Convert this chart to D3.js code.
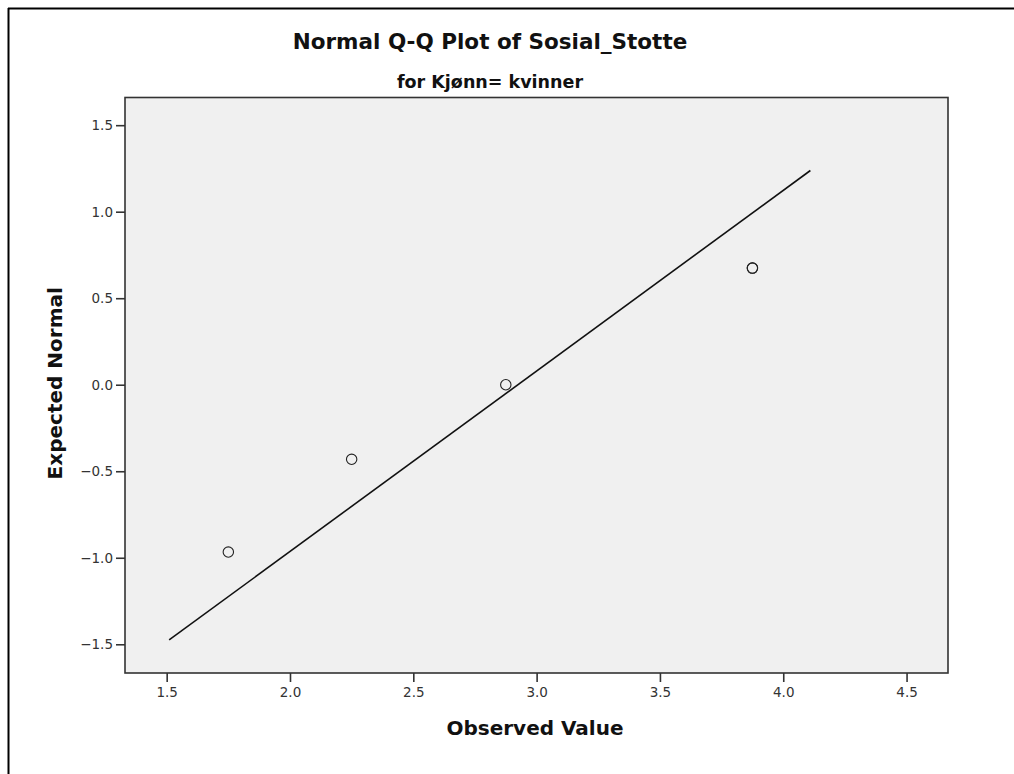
<!DOCTYPE html>
<html>
<head>
<meta charset="utf-8">
<script src="https://cdn.jsdelivr.net/npm/d3@7"></script>
<style>
  html, body { margin: 0; padding: 0; background: #fff; }
  svg { display: block; }
  text { font-family: "DejaVu Sans", sans-serif; fill: #111; }
</style>
</head>
<body>
<svg id="chart" width="1014" height="774"></svg>
<script>
// Observed values and their expected normal quantiles
const observed = [1.75, 2.25, 2.875, 3.875, 3.875];
const expected = [-0.967, -0.431, 0.0, 0.674, 0.674];

// Reference line endpoints (observed, expected)
const lineObserved = [1.51, 4.11];
const lineExpected = [-1.475, 1.238];

const xTicks = [1.5, 2.0, 2.5, 3.0, 3.5, 4.0, 4.5];
const yTicks = [-1.5, -1.0, -0.5, 0.0, 0.5, 1.0, 1.5];

const title = "Normal Q-Q Plot of Sosial_Stotte";
const subtitle = "for Kjønn= kvinner";
const xLabel = "Observed Value";
const yLabel = "Expected Normal";

const svg = d3.select("#chart");
const plot = { left: 125, top: 97.5, right: 948, bottom: 673 };

const x = d3.scaleLinear().domain([1.331, 4.668]).range([plot.left, plot.right]);
const y = d3.scaleLinear().domain([-1.666, 1.66]).range([plot.bottom, plot.top]);

// outer frame lines
svg.append("line").attr("x1", 8).attr("x2", 1014).attr("y1", 8.5).attr("y2", 8.5)
  .attr("stroke", "#000").attr("stroke-width", 2);
svg.append("line").attr("x1", 8.5).attr("x2", 8.5).attr("y1", 8).attr("y2", 774)
  .attr("stroke", "#000").attr("stroke-width", 2);

// plot background
svg.append("rect")
  .attr("x", plot.left).attr("y", plot.top)
  .attr("width", plot.right - plot.left).attr("height", plot.bottom - plot.top)
  .attr("fill", "#f0f0f0").attr("stroke", "#333").attr("stroke-width", 1.6);

// axes
const fmt = d3.format(".1f");
const xAxis = svg.append("g").attr("transform", `translate(0,${plot.bottom})`)
  .call(d3.axisBottom(x).tickValues(xTicks).tickFormat(fmt).tickSize(9).tickPadding(5));
const yAxis = svg.append("g").attr("transform", `translate(${plot.left},0)`)
  .call(d3.axisLeft(y).tickValues(yTicks).tickFormat(d => fmt(d).replace("-", "\u2212")).tickSize(9).tickPadding(3));

[xAxis, yAxis].forEach(g => {
  g.select(".domain").remove();
  g.selectAll(".tick line").attr("stroke", "#333").attr("stroke-width", 1.6);
  g.selectAll(".tick text").attr("font-size", 13.5).style("fill", "#333")
    .attr("font-family", "DejaVu Sans, sans-serif");
});

// reference line
svg.append("line")
  .attr("x1", x(lineObserved[0])).attr("y1", y(lineExpected[0]))
  .attr("x2", x(lineObserved[1])).attr("y2", y(lineExpected[1]))
  .attr("stroke", "#111").attr("stroke-width", 1.6);

// points
svg.append("g").selectAll("circle")
  .data(observed.map((v, i) => [v, expected[i]]))
  .join("circle")
  .attr("cx", d => x(d[0])).attr("cy", d => y(d[1]))
  .attr("r", 5.2)
  .attr("fill", "none").attr("stroke", "#222").attr("stroke-width", 1.1);

// titles
svg.append("text").attr("x", 490).attr("y", 49).attr("text-anchor", "middle")
  .attr("font-size", 21.5).attr("font-weight", "bold").text(title);
svg.append("text").attr("x", 490).attr("y", 88).attr("text-anchor", "middle")
  .attr("font-size", 17.5).attr("font-weight", "bold").text(subtitle);
svg.append("text").attr("x", 535).attr("y", 735).attr("text-anchor", "middle")
  .attr("font-size", 20).attr("font-weight", "bold").text(xLabel);
svg.append("text").attr("transform", `translate(62,${(plot.top + plot.bottom) / 2 - 2}) rotate(-90)`)
  .attr("text-anchor", "middle")
  .attr("font-size", 20).attr("font-weight", "bold").text(yLabel);
</script>
</body>
</html>
